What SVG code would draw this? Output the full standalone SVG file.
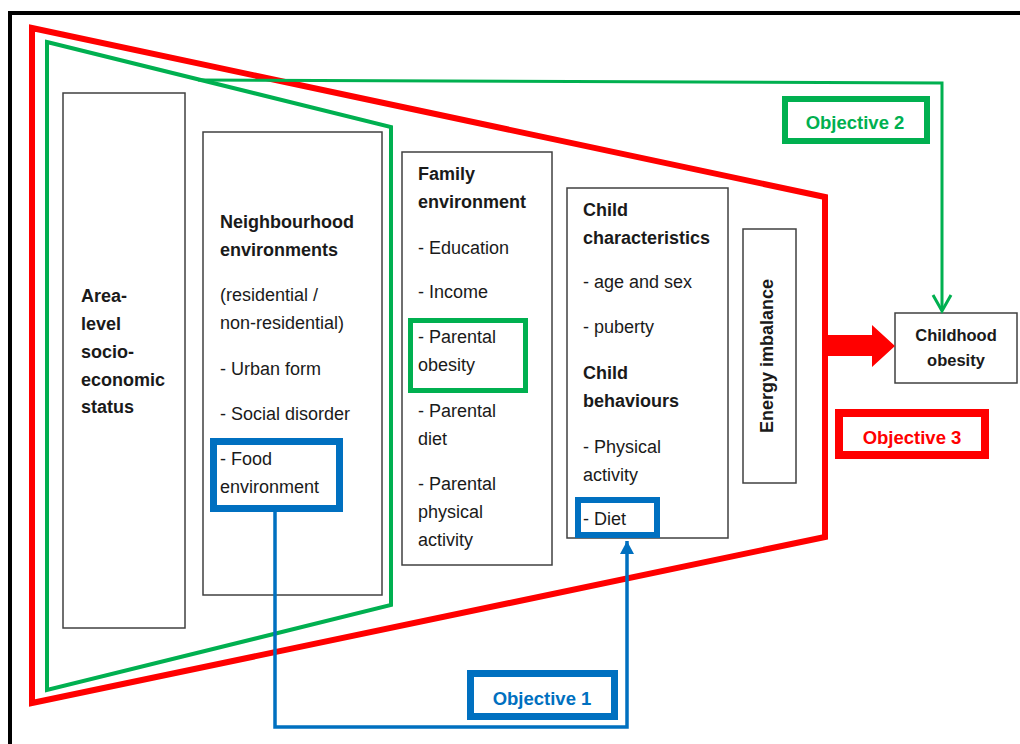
<svg xmlns="http://www.w3.org/2000/svg" width="1020" height="744" viewBox="0 0 1020 744">
<style>
  .box{fill:#fff;stroke:#404040;stroke-width:1.5}
  .t{font-family:"Liberation Sans",Arial,sans-serif;font-size:18px;fill:#1a1a1a}
  .b{font-weight:bold}
  .obj{font-family:"Liberation Sans",Arial,sans-serif;font-size:18.5px;font-weight:bold;text-anchor:middle}
  .hlb{fill:none;stroke:#0070C0}
  .hlg{fill:none;stroke:#00B050}
</style>
<defs>
  <marker id="blueHead" markerWidth="14" markerHeight="14" refX="13" refY="7" orient="auto" markerUnits="userSpaceOnUse" viewBox="0 0 14 14">
    <path d="M0,0 L13,7 L0,14 Z" fill="#0070C0"/>
  </marker>
</defs>
<rect width="1020" height="744" fill="#fff"/>
<path d="M10,744 L10,13 L1020,13" fill="none" stroke="#000" stroke-width="4"/>

<g id="objective3-frame">
  <polygon points="32,28 825,197 825,537 32,703" fill="none" stroke="#ff0000" stroke-width="6"/>
</g>
<g id="objective2-frame">
  <polygon points="47,42 391,127 391,605 47,690" fill="none" stroke="#00B050" stroke-width="4"/>
</g>

<g id="area-ses">
  <rect class="box" x="63" y="93" width="122" height="535"/>
  <text class="t b" x="81" y="302">Area-</text>
  <text class="t b" x="81" y="330">level</text>
  <text class="t b" x="81" y="358">socio-</text>
  <text class="t b" x="81" y="386">economic</text>
  <text class="t b" x="81" y="413">status</text>
</g>

<g id="neighbourhood">
  <rect class="box" x="203" y="132" width="179" height="463"/>
  <text class="t b" x="220" y="228">Neighbourhood</text>
  <text class="t b" x="220" y="256">environments</text>
  <text class="t" x="220" y="301">(residential /</text>
  <text class="t" x="220" y="329">non-residential)</text>
  <text class="t" x="220" y="375">- Urban form</text>
  <text class="t" x="220" y="420">- Social disorder</text>
  <text class="t" x="220" y="465">- Food</text>
  <text class="t" x="220" y="493">environment</text>
  <rect class="hlb" x="213.5" y="441.5" width="126" height="67" stroke-width="7"/>
</g>

<g id="family">
  <rect class="box" x="402" y="152" width="150" height="413"/>
  <text class="t b" x="418" y="180">Family</text>
  <text class="t b" x="418" y="208">environment</text>
  <text class="t" x="418" y="254">- Education</text>
  <text class="t" x="418" y="298">- Income</text>
  <text class="t" x="418" y="343">- Parental</text>
  <text class="t" x="418" y="371">obesity</text>
  <text class="t" x="418" y="417">- Parental</text>
  <text class="t" x="418" y="445">diet</text>
  <text class="t" x="418" y="490">- Parental</text>
  <text class="t" x="418" y="518">physical</text>
  <text class="t" x="418" y="546">activity</text>
  <rect class="hlg" x="410.5" y="320.5" width="115" height="70" stroke-width="5"/>
</g>

<g id="child">
  <rect class="box" x="567" y="188" width="161" height="350"/>
  <text class="t b" x="583" y="216">Child</text>
  <text class="t b" x="583" y="244">characteristics</text>
  <text class="t" x="583" y="288">- age and sex</text>
  <text class="t" x="583" y="333">- puberty</text>
  <text class="t b" x="583" y="379">Child</text>
  <text class="t b" x="583" y="407">behaviours</text>
  <text class="t" x="583" y="453">- Physical</text>
  <text class="t" x="583" y="481">activity</text>
  <text class="t" x="583" y="525">- Diet</text>
  <rect class="hlb" x="578" y="500" width="79" height="35" stroke-width="6"/>
</g>

<g id="energy">
  <rect class="box" x="743" y="229" width="53" height="254"/>
  <text class="t b" x="773" y="356" text-anchor="middle" transform="rotate(-90 773 356)">Energy imbalance</text>
</g>

<g id="childhood-obesity">
  <rect class="box" x="895" y="313" width="122" height="70"/>
  <text class="t b" x="956" y="341" text-anchor="middle" style="font-size:16.5px">Childhood</text>
  <text class="t b" x="956" y="366" text-anchor="middle" style="font-size:16.5px">obesity</text>
</g>

<g id="objective-2">
  <rect x="785" y="99" width="142" height="42" fill="#fff" stroke="#00B050" stroke-width="6"/>
  <text class="obj" x="855" y="129" fill="#00B050">Objective 2</text>
</g>
<g id="objective-3">
  <rect x="839" y="413" width="146" height="42" fill="#fff" stroke="#ff0000" stroke-width="8"/>
  <text class="obj" x="912" y="444" fill="#ff0000">Objective 3</text>
</g>
<g id="objective-1">
  <rect x="470.5" y="673.5" width="144" height="43" fill="#fff" stroke="#0070C0" stroke-width="7"/>
  <text class="obj" x="542" y="705" fill="#0070C0">Objective 1</text>
</g>

<g id="connectors">
  <polyline points="198,80 942,83 942,310" fill="none" stroke="#00B050" stroke-width="3"/>
  <polyline points="933,295 942,311 951,295" fill="none" stroke="#00B050" stroke-width="3"/>
  <polygon points="825,335 872,335 872,325 895,346 872,367 872,356 825,356" fill="#ff0000"/>
  <polyline points="275,512 275,727 627,727 627,541" fill="none" stroke="#0070C0" stroke-width="3.5" marker-end="url(#blueHead)"/>
</g>
</svg>
